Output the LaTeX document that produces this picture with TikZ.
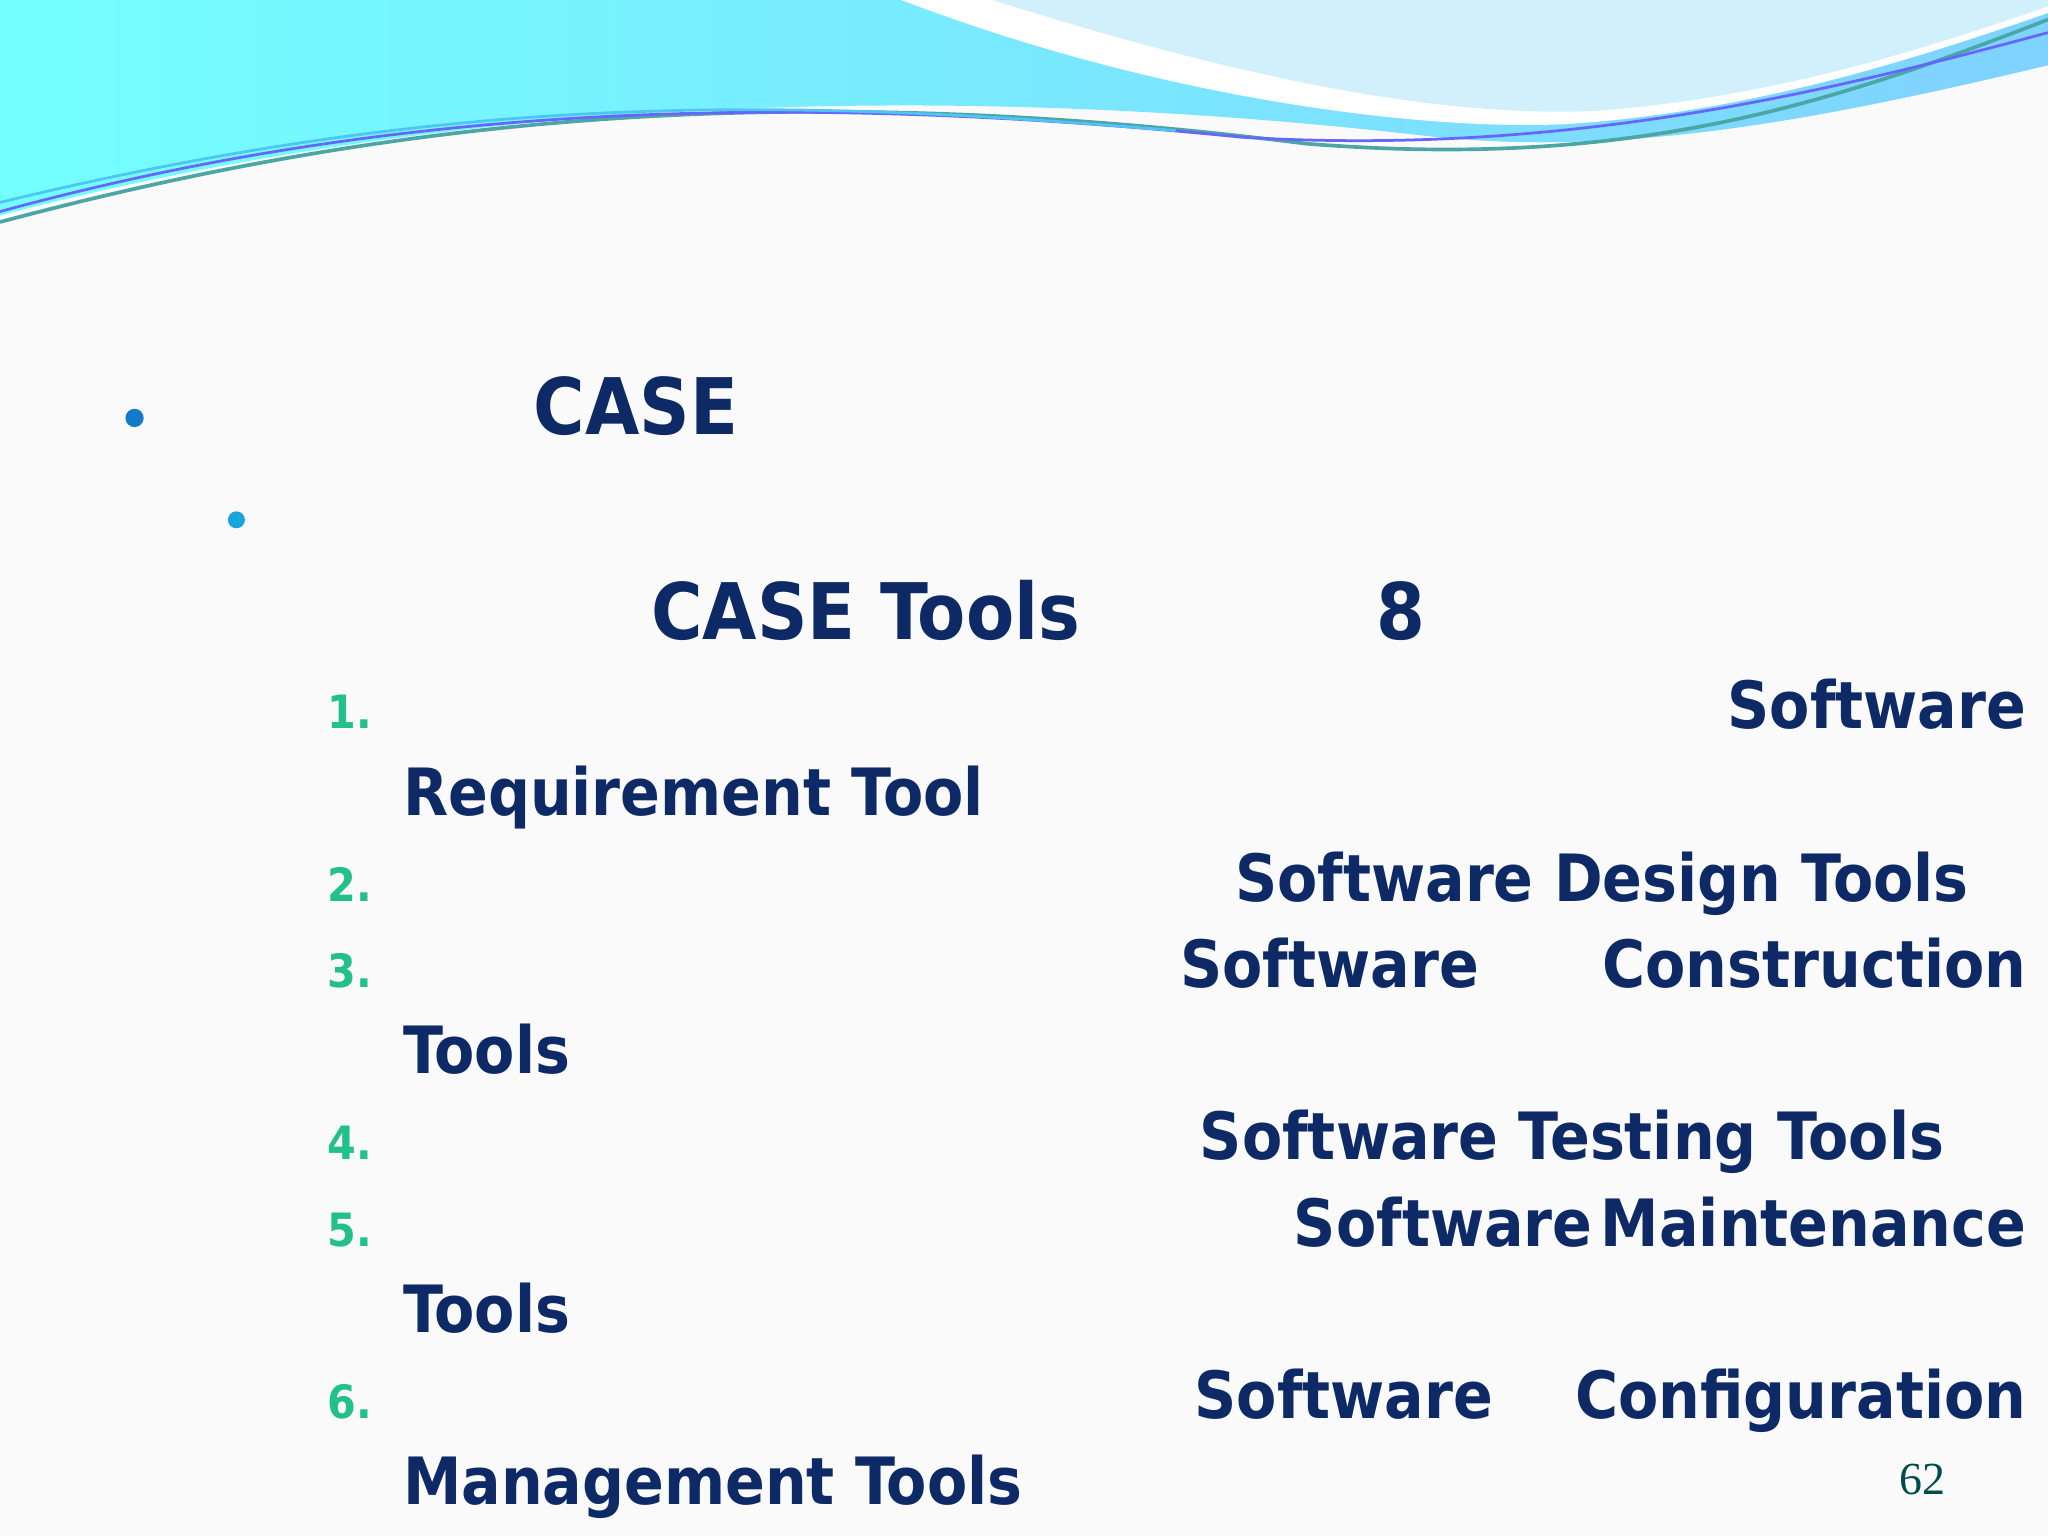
\documentclass[tikz,border=0pt]{standalone}
\usepackage{fontspec}
\setmainfont{DejaVu Sans Condensed}
\newfontfamily\pgfont{Liberation Serif}
\definecolor{navy}{HTML}{0E2A66}
\definecolor{numg}{HTML}{22C08A}
\begin{document}
\begin{tikzpicture}[x=1cm,y=-1cm,
 body/.style={font=\bfseries\fontsize{14.2}{17}\selectfont,text=navy,inner sep=0pt},
 head/.style={font=\bfseries\fontsize{17}{20}\selectfont,text=navy,inner sep=0pt},
 num/.style={font=\bfseries\fontsize{10}{12}\selectfont,text=numg,inner sep=0pt}]
\useasboundingbox (0,0) rectangle (15.68,11.76);
\fill[white!96!gray] (0,0) rectangle (15.68,11.76);
% header
\shade[left color=cyan!55!white,right color=blue!35!cyan!50!white]
 (0,0) -- (15.68,0) -- (15.68,0.5) .. controls (14,0.9) and (12.5,1.2) .. (11,1.05)
 .. controls (8,0.7) and (4,0.6) .. (0,1.65) -- cycle;
\fill[white] (6.9,0) .. controls (9,0.8) and (11,1.0) .. (12,0.95)
 .. controls (13.5,0.85) and (14.8,0.4) .. (15.68,0.1) -- (15.68,0) -- cycle;
\fill[cyan!30!white,opacity=0.6] (7.6,0) .. controls (9.5,0.6) and (11,0.9) .. (12.2,0.85)
 .. controls (13.6,0.75) and (14.8,0.35) .. (15.68,0.05) -- (15.68,0) -- cycle;
\draw[teal!70,line width=0.8pt] (0,1.7) .. controls (3,0.9) and (6,0.6) .. (10,1.1)
 .. controls (12.5,1.3) and (14,0.8) .. (15.68,0.15);
\draw[blue!60,line width=0.6pt] (0,1.62) .. controls (3,0.8) and (6,0.7) .. (9.5,1.05)
 .. controls (12,1.2) and (14,0.7) .. (15.68,0.25);
\draw[cyan!70,line width=0.6pt] (0,1.55) .. controls (3.5,0.7) and (6,0.75) .. (9,1.0);
% content
\fill[cyan!60!blue] (1.03,3.2) circle (0.07) coordinate (b1);
\fill[cyan!80!teal] (1.81,3.98) circle (0.065) coordinate (b2);
\node[head,anchor=base west] (t1) at (4.08,3.33) {CASE};
\node[head,anchor=base west] (t2) at (4.98,4.90) {CASE Tools};
\node[head,anchor=base west] (t3) at (10.53,4.90) {8};
\foreach \n/\y in {1/5.58,2/6.90,3/7.56,4/8.88,5/9.54,6/10.86}
 \node[num,anchor=base west] (n\n) at (2.50,\y) {\n.};
\node[body,anchor=base east] (a1) at (15.52,5.58) {Software};
\node[body,anchor=base west] (a2) at (3.08,6.24) {Requirement Tool};
\node[body,anchor=base west] (c1) at (9.45,6.90) {Software Design Tools};
\node[body,anchor=base west] (d1) at (9.03,7.56) {Software};
\node[body,anchor=base east] (d2) at (15.52,7.56) {Construction};
\node[body,anchor=base west] (d3) at (3.08,8.22) {Tools};
\node[body,anchor=base west] (e1) at (9.18,8.88) {Software Testing Tools};
\node[body,anchor=base west] (f1) at (9.90,9.54) {Software};
\node[body,anchor=base east] (f2) at (15.52,9.54) {Maintenance};
\node[body,anchor=base west] (f3) at (3.08,10.20) {Tools};
\node[body,anchor=base west] (g1) at (9.14,10.86) {Software};
\node[body,anchor=base east] (g2) at (15.52,10.86) {Configuration};
\node[body,anchor=base west] (g3) at (3.08,11.52) {Management Tools};
\node[font=\pgfont\fontsize{10}{11}\selectfont,text=teal!60!black,anchor=base east,inner sep=0pt] (pg) at (14.90,11.44) {62};
\end{tikzpicture}
\end{document}
